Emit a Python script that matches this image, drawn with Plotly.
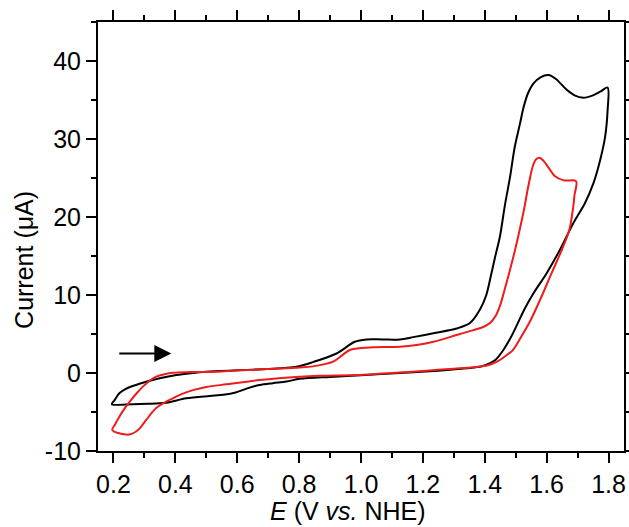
import plotly.graph_objects as go

# Black CV (forward then reverse scan)
black_x = [0.195, 0.205, 0.219, 0.24, 0.262, 0.295, 0.327, 0.365, 0.403, 0.45, 0.5, 0.6, 0.694, 0.791,
           0.845, 0.921, 0.98, 1.018, 1.07, 1.126, 1.169, 1.234, 1.309, 1.352, 1.384, 1.405, 1.42, 1.433,
           1.449, 1.465, 1.482, 1.497, 1.514, 1.525, 1.54, 1.557, 1.58, 1.606, 1.63, 1.665, 1.69, 1.719,
           1.75, 1.775, 1.797,
           1.797, 1.789, 1.773, 1.751, 1.724, 1.686, 1.643, 1.6, 1.557, 1.53, 1.514, 1.49, 1.46, 1.435,
           1.417, 1.39, 1.341, 1.25, 1.126, 1.0, 0.9, 0.802, 0.759, 0.715, 0.672, 0.63, 0.595, 0.555, 0.511,
           0.435, 0.371, 0.31, 0.262, 0.195]
black_y = [-4.0, -3.4, -2.6, -2.05, -1.67, -1.25, -0.9, -0.55, -0.26, -0.02, 0.17, 0.35, 0.51, 0.8,
           1.4, 2.5, 4.0, 4.3, 4.3, 4.3, 4.6, 5.1, 5.7, 6.4, 8.1, 10.0, 12.5, 14.8,
           17.5, 21.5, 25.2, 29.0, 32.0, 34.0, 35.9, 37.1, 37.9, 38.2, 37.7, 36.3, 35.6, 35.3,
           35.6, 36.1, 36.6,
           33.7, 30.3, 27.3, 24.3, 21.8, 19.2, 15.8, 12.8, 10.2, 8.3, 7.0, 5.0, 2.95, 1.7,
           1.25, 0.85, 0.6, 0.3, 0.0, -0.3, -0.5, -0.75, -1.1, -1.3, -1.54, -2.0, -2.5, -2.8, -2.95,
           -3.25, -3.8, -3.95, -4.0, -4.0]

# Red CV (forward then reverse scan)
red_x = [0.196, 0.205, 0.219, 0.235, 0.252, 0.275, 0.295, 0.315, 0.338, 0.365, 0.392, 0.45, 0.532,
         0.694, 0.802, 0.845, 0.91, 0.94, 0.964, 1.018, 1.126, 1.18, 1.234, 1.309, 1.363, 1.395, 1.417,
         1.435, 1.449, 1.465, 1.482, 1.498, 1.512, 1.527, 1.542, 1.556, 1.566, 1.577, 1.59, 1.605, 1.625,
         1.655, 1.695,
         1.69, 1.686, 1.673, 1.649, 1.616, 1.579, 1.546, 1.514, 1.49, 1.471, 1.45, 1.428,
         1.406, 1.363, 1.3, 1.212, 1.1, 0.996, 0.867, 0.802, 0.672, 0.565, 0.5, 0.457, 0.42, 0.392,
         0.365, 0.338, 0.306, 0.285, 0.273, 0.255, 0.241, 0.215, 0.196]
red_y = [-7.3, -6.6, -5.6, -4.6, -3.7, -2.6, -1.75, -1.05, -0.47, -0.15, 0.04, 0.12, 0.17,
         0.5, 0.7, 0.85, 1.45, 2.3, 2.95, 3.25, 3.37, 3.6, 4.0, 4.87, 5.5, 5.9, 6.4,
         7.3, 8.6, 10.8, 13.3, 15.8, 18.2, 21.0, 24.2, 26.6, 27.4, 27.6, 27.2, 26.4, 25.3,
         24.7, 24.6,
         22.8, 21.3, 18.3, 15.8, 12.8, 9.4, 6.6, 4.4, 2.9, 2.3, 1.7, 1.25,
         0.95, 0.73, 0.55, 0.3, 0.0, -0.26, -0.35, -0.47, -0.9, -1.45, -1.8, -2.2, -2.7, -3.25,
         -3.8, -4.5, -6.0, -7.1, -7.5, -7.85, -7.9, -7.7, -7.3]

x_ticks = [0.2, 0.4, 0.6, 0.8, 1.0, 1.2, 1.4, 1.6, 1.8]
x_ticklabels = ["0.2", "0.4", "0.6", "0.8", "1.0", "1.2", "1.4", "1.6", "1.8"]
y_ticks = [-10, 0, 10, 20, 30, 40]
y_ticklabels = ["-10", "0", "10", "20", "30", "40"]

arrow_start = (0.214, 2.5)
arrow_end = (0.387, 2.5)

FONT = "Liberation Sans, Arial, sans-serif"
FS = 25

fig = go.Figure()
fig.add_trace(go.Scatter(x=black_x, y=black_y, mode="lines",
                         line=dict(color="black", width=2, shape="spline", smoothing=0.9),
                         showlegend=False, hoverinfo="skip"))
fig.add_trace(go.Scatter(x=red_x, y=red_y, mode="lines",
                         line=dict(color="#ee1c1c", width=2, shape="spline", smoothing=0.9),
                         showlegend=False, hoverinfo="skip"))

axis_common = dict(showline=True, linecolor="black", linewidth=2, mirror="ticks",
                   ticks="outside", ticklen=10, tickwidth=2, tickcolor="black",
                   showgrid=False, zeroline=False, automargin=False,
                   tickfont=dict(family=FONT, size=FS, color="black"))

fig.update_xaxes(range=[0.15, 1.85], tickvals=x_ticks, ticktext=x_ticklabels,
                 minor=dict(dtick=0.1, tick0=0.1, ticklen=5, tickwidth=2, tickcolor="black", ticks="outside"),
                 **axis_common)
fig.update_yaxes(range=[-10, 45], tickvals=y_ticks, ticktext=y_ticklabels,
                 minor=dict(dtick=5, tick0=-5, ticklen=5, tickwidth=2, tickcolor="black", ticks="outside"),
                 **axis_common)

fig.add_annotation(x=arrow_end[0], y=arrow_end[1], ax=arrow_start[0], ay=arrow_start[1],
                   xref="x", yref="y", axref="x", ayref="y", text="", showarrow=True,
                   arrowhead=2, arrowsize=1.7, arrowwidth=2, arrowcolor="black")

fig.add_annotation(x=0.475, y=-0.14, xref="paper", yref="paper", xanchor="center", yanchor="middle",
                   text="<i>E</i> (V <i>vs.</i> NHE)", showarrow=False,
                   font=dict(family=FONT, size=FS, color="black"))
fig.add_annotation(x=-0.141, y=0.445, xref="paper", yref="paper", xanchor="center", yanchor="middle",
                   text="Current (μA)", textangle=-90, showarrow=False,
                   font=dict(family=FONT, size=FS, color="black"))

fig.update_layout(width=629, height=527, margin=dict(l=98, r=5, t=22, b=76, autoexpand=False),
                  paper_bgcolor="white", plot_bgcolor="white",
                  font=dict(family=FONT, size=FS, color="black"))

fig.write_html("out.html", config={"displayModeBar": False},
               post_script="document.body.style.margin='0';document.body.style.overflow='hidden';")
